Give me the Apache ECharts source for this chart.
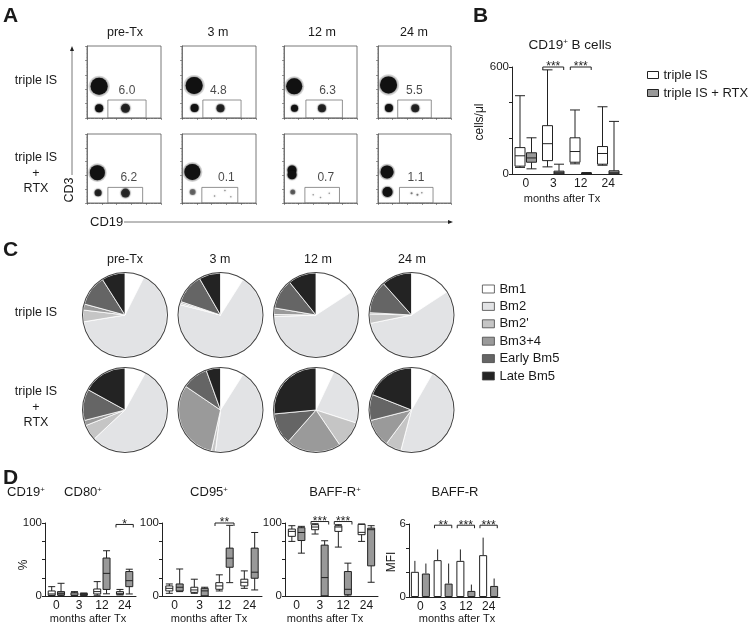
<!DOCTYPE html>
<html><head><meta charset="utf-8">
<script src="https://cdn.jsdelivr.net/npm/echarts@6.0.0/dist/echarts.min.js"></script>
<style>html,body{margin:0;padding:0;background:#fff}#c{width:748px;height:627px}</style>
</head><body><div id="c"></div>
<script>
// ---------------- DATA ----------------
const timepoints = ['pre-Tx', '3 m', '12 m', '24 m'];
const groupNames = ['triple IS', 'triple IS + RTX'];
const monthsAfterTx = ['0', '3', '12', '24'];

// Panel A: % CD19+ in gate
const gatePctIS = [6.0, 4.8, 6.3, 5.5];
const gatePctRTX = [6.2, 0.1, 0.7, 1.1];
// flow clusters: [CD19 (decades), CD3 (decades), spread, density]
const flowClustersIS = [
  [[0.82, 2.2, 17, 1], [0.82, 0.68, 8, 1], [2.6, 0.68, 9, 0.8]],
  [[0.82, 2.25, 17, 1], [0.85, 0.7, 8, 1], [2.6, 0.68, 8, 0.8]],
  [[0.7, 2.2, 16, 1], [0.72, 0.68, 7, 1], [2.6, 0.68, 8, 0.8]],
  [[0.72, 2.3, 17, 1], [0.75, 0.7, 8, 1], [2.55, 0.68, 8, 0.8]]
];
const flowClustersRTX = [
  [[0.7, 2.2, 15, 1], [0.75, 0.75, 7, 0.8], [2.6, 0.72, 9, 0.75]],
  [[0.7, 2.25, 16, 1], [0.72, 0.8, 6, 0.45], [2.2, 0.5, 1.5, 0.4], [2.9, 0.9, 1.5, 0.4], [3.3, 0.45, 1.5, 0.35]],
  [[0.55, 2.4, 9, 1], [0.55, 2.05, 9, 1], [0.6, 0.8, 5, 0.5], [2.0, 0.6, 1.5, 0.35], [2.5, 0.4, 1.5, 0.35], [3.1, 0.7, 1.5, 0.35]],
  [[0.62, 2.25, 13, 1], [0.65, 0.8, 10, 1], [2.3, 0.7, 2, 0.45], [2.7, 0.6, 2, 0.45], [3.0, 0.75, 1.5, 0.4]]
];
// gates: [x1, x2, yTop]
const gatesIS = [[1.41, 3.99, 1.25], [1.41, 3.99, 1.25], [1.5, 4.0, 1.25], [1.35, 3.65, 1.25]];
const gatesRTX = [[1.41, 3.76, 1.13], [1.34, 3.77, 1.13], [1.43, 3.8, 1.13], [1.47, 3.77, 1.13]];
const gateLabelIS = [[2.7, 1.93], [2.46, 1.93], [2.98, 1.93], [2.49, 1.93]];
const gateLabelRTX = [[2.82, 1.86], [3.0, 1.86], [2.86, 1.86], [2.6, 1.86]];

// Panel B: CD19+ B cells (cells/ul) [min, Q1, median, Q3, max]
const bCellsIS = [[37, 44, 102, 148, 439], [40, 75, 170, 271, 584], [57, 66, 126, 203, 359], [49, 55, 115, 154, 377]];
const bCellsRTX = [[29, 66, 90, 119, 203], [0, 0, 7, 16, 55], [0, 1, 3, 5, 8], [0, 0, 7, 18, 295]];
const bSig = [[1, 600, '***'], [2, 600, '***']];

// Panel C: B cell subsets (%)
const subsets = ['Bm1', 'Bm2', "Bm2'", 'Bm3+4', 'Early Bm5', 'Late Bm5'];
const subsetIS = [
  [7.4, 65, 4.5, 2.3, 11.8, 9],
  [9, 70, 0.6, 0.6, 11.5, 8.3],
  [15.8, 58.6, 0.8, 2.5, 11.5, 10.8],
  [15.8, 56, 3.6, 0.5, 12.5, 11.6]
];
const subsetRTX = [
  [8, 55, 6, 2, 12, 17],
  [9, 43, 1.5, 31, 10, 5.5],
  [7, 23, 10.5, 21, 12, 26.5],
  [8.3, 45.8, 6.1, 10.8, 10, 19]
];

// Panel D
const cd80IS = [[0.5, 1, 2.8, 6.9, 12.8], [0.5, 1, 2.8, 4.6, 6], [1, 2.8, 6, 9.6, 19.7], [1.4, 2.3, 3.7, 6, 9]];
const cd80RTX = [[0.5, 1.4, 3.7, 6, 17.4], [1, 1, 2.3, 3.7, 4], [3, 9, 31, 52, 62], [2.8, 12.8, 21, 33.5, 36.7]];
const cd80Sig = [[3, 98, '*']];
const cd95IS = [[3.7, 6.9, 10.5, 13.8, 16.5], [3.7, 5, 8.3, 12, 23], [6.9, 9.2, 13.8, 18.3, 29], [10.5, 13.8, 18.8, 23, 34.4]];
const cd95RTX = [[6, 6.9, 12, 16.5, 37], [0, 0, 7, 10.5, 12], [18.3, 39.4, 51.8, 65.6, 96.8], [8.3, 24.3, 32.6, 65.6, 87]];
const cd95Sig = [[2, 100, '**']];
const baffPosIS = [[74.8, 81.7, 88.5, 91.7, 96.3], [84.9, 90.8, 94.5, 97.7, 99], [67, 88.5, 94.5, 96.3, 97.7], [74.8, 84, 87.2, 98.2, 98.6]];
const baffPosRTX = [[58.7, 76, 87, 93.6, 95.4], [0, 0, 25.2, 69.7, 75.7], [0, 1.8, 9.2, 33.5, 45], [18.8, 41.3, 90.8, 93, 96.3]];
const baffPosSig = [[1, 102, '***'], [2, 102, '***']];
const mfiIS = [2.07, 3.03, 2.97, 3.44];
const mfiISErr = [2.97, 3.91, 3.91, 4.88];
const mfiRTX = [1.93, 1.1, 0.5, 0.91];
const mfiRTXErr = [2.75, 2.75, 1.02, 1.52];
const mfiSig = [[1, 5.9, '**'], [2, 5.9, '***'], [3, 5.9, '***']];

// ---------------- STYLE / LAYOUT ----------------
const FONT = '"Liberation Sans", Arial, Helvetica, sans-serif';
const INK = '#1a1a1a';
const GREY = '#999999';
const subsetColors = ['#ffffff', '#e2e3e5', '#c5c5c5', '#9a9a9a', '#656565', '#232323'];

const chart = echarts.init(document.getElementById('c'));
const grids = [], xAxes = [], yAxes = [], series = [];

function flowAxis(i) {
  return {
    gridIndex: i, type: 'value', min: 0, max: 5, interval: 1,
    axisLine: { show: true, onZero: false, lineStyle: { color: '#555', width: 0.7 } },
    axisTick: { show: true, length: 2, lineStyle: { color: '#555', width: 0.6 } },
    minorTick: { show: true, splitNumber: 4, length: 1, lineStyle: { color: '#999', width: 0.5 } },
    axisLabel: { show: false }, splitLine: { show: false }
  };
}

const flowLeft = [87, 182, 284, 378];
const flowW = [74, 74, 73, 73];
const flowRows = [{ top: 46, h: 72 }, { top: 134, h: 69 }];

[gatePctIS, gatePctRTX].forEach((pcts, r) => {
  const clusters = r === 0 ? flowClustersIS : flowClustersRTX;
  const gates = r === 0 ? gatesIS : gatesRTX;
  const labs = r === 0 ? gateLabelIS : gateLabelRTX;
  for (let c = 0; c < 4; c++) {
    const gi = grids.length;
    grids.push({ left: flowLeft[c], top: flowRows[r].top, width: flowW[c], height: flowRows[r].h,
      show: true, borderColor: '#555', borderWidth: 0.8, backgroundColor: 'rgba(0,0,0,0)', outerBoundsMode: 'none' });
    xAxes.push(flowAxis(gi));
    yAxes.push(flowAxis(gi));
    const cl = clusters[c];
    series.push({ type: 'scatter', xAxisIndex: gi, yAxisIndex: gi, silent: true,
      symbolSize: d => d[2] * 1.25, itemStyle: { color: '#777' },
      data: cl.map(d => ({ value: d, itemStyle: { opacity: 0.25 * d[3] } })) });
    series.push({ type: 'scatter', xAxisIndex: gi, yAxisIndex: gi, silent: true,
      symbolSize: d => d[2], itemStyle: { color: '#111', shadowBlur: 2, shadowColor: 'rgba(0,0,0,0.8)' },
      data: cl.map(d => ({ value: d, itemStyle: { opacity: d[3] } })),
      markArea: { silent: true, itemStyle: { color: 'rgba(0,0,0,0)', borderColor: '#777', borderWidth: 0.8 },
        data: [[{ coord: [gates[c][0], 0] }, { coord: [gates[c][1], gates[c][2]] }]] } });
    series.push({ type: 'scatter', xAxisIndex: gi, yAxisIndex: gi, silent: true, symbolSize: 1,
      itemStyle: { color: 'rgba(0,0,0,0)' }, data: [labs[c]],
      label: { show: true, position: 'inside', formatter: pcts[c].toFixed(1), fontSize: 12, color: INK, fontFamily: FONT } });
  }
});

function catAxis(i) {
  return { gridIndex: i, type: 'category', data: monthsAfterTx,
    axisLine: { lineStyle: { color: '#222', width: 1 } }, axisTick: { show: false },
    axisLabel: { fontSize: 12, color: INK, fontFamily: FONT, margin: 4 }, splitLine: { show: false } };
}
function valAxis(i, max, interval) {
  return { gridIndex: i, type: 'value', min: 0, max: max, interval: interval,
    axisLine: { show: true, lineStyle: { color: '#222', width: 1 } },
    axisTick: { show: true, length: 3, lineStyle: { color: '#222' } },
    axisLabel: { fontSize: 11.5, color: INK, fontFamily: FONT, margin: 3,
      formatter: v => (v === 0 || v === max) ? String(v) : '' },
    splitLine: { show: false } };
}
function boxSeries(i, name, data, fill, w) {
  return { type: 'boxplot', name: name, xAxisIndex: i, yAxisIndex: i, data: data, silent: true,
    boxWidth: [w, w], itemStyle: { color: fill, borderColor: '#222', borderWidth: 1 } };
}
function sigSeries(i, list) {
  return { type: 'custom', xAxisIndex: i, yAxisIndex: i, silent: true, clip: false, z: 10,
    data: list.map(b => [b[0], b[1]]),
    renderItem: (params, api) => {
      const c = api.coord([api.value(0), api.value(1)]);
      const h = api.size([1, 0])[0] * 0.38;
      const lab = list[params.dataIndex][2];
      return { type: 'group', children: [
        { type: 'polyline', shape: { points: [[c[0] - h, c[1] + 3], [c[0] - h, c[1]], [c[0] + h, c[1]], [c[0] + h, c[1] + 3]] },
          style: { stroke: '#222', lineWidth: 1, fill: null } },
        { type: 'text', x: c[0], y: c[1] + 6,
          style: { text: lab, fill: '#222', font: '12px ' + FONT, textAlign: 'center', textVerticalAlign: 'bottom', align: 'center', verticalAlign: 'bottom' } }
      ] };
    } };
}
function errSeries(i, means, errs, off) {
  return { type: 'custom', xAxisIndex: i, yAxisIndex: i, silent: true, z: 1,
    data: means.map((m, k) => [k, m, errs[k]]),
    renderItem: (p, api) => {
      const a = api.coord([api.value(0), api.value(1)]);
      const b = api.coord([api.value(0), api.value(2)]);
      return { type: 'line', shape: { x1: a[0] + off, y1: a[1], x2: b[0] + off, y2: b[1] }, style: { stroke: '#222', lineWidth: 1 } };
    } };
}

// Panel B grid (index 8)
grids.push({ left: 512, top: 67, width: 110, height: 107, outerBoundsMode: 'none' });
xAxes.push(catAxis(8)); yAxes.push(valAxis(8, 600, 200));
series.push(boxSeries(8, groupNames[0], bCellsIS, '#fff', 10));
series.push(boxSeries(8, groupNames[1], bCellsRTX, GREY, 10));
series.push(sigSeries(8, bSig));

// Panel D grids (9..12)
const dGrids = [
  { left: 45, top: 523, width: 91, height: 73 },
  { left: 162, top: 523, width: 100, height: 73 },
  { left: 285, top: 523, width: 93, height: 73 },
  { left: 409, top: 524, width: 91, height: 73 }
];
dGrids.forEach(g => grids.push(Object.assign({ outerBoundsMode: 'none' }, g)));
[[cd80IS, cd80RTX, cd80Sig], [cd95IS, cd95RTX, cd95Sig], [baffPosIS, baffPosRTX, baffPosSig]].forEach((d, k) => {
  const gi = 9 + k;
  xAxes.push(catAxis(gi)); yAxes.push(valAxis(gi, 100, 25));
  series.push(boxSeries(gi, groupNames[0], d[0], '#fff', 7));
  series.push(boxSeries(gi, groupNames[1], d[1], GREY, 7));
  series.push(sigSeries(gi, d[2]));
});
xAxes.push(catAxis(12)); yAxes.push(valAxis(12, 6, 2));
series.push({ type: 'bar', name: groupNames[0], xAxisIndex: 12, yAxisIndex: 12, data: mfiIS, barWidth: 8, barGap: '37.5%', silent: true,
  itemStyle: { color: '#fff', borderColor: '#222', borderWidth: 1 } });
series.push({ type: 'bar', name: groupNames[1], xAxisIndex: 12, yAxisIndex: 12, data: mfiRTX, barWidth: 8, barGap: '37.5%', silent: true,
  itemStyle: { color: GREY, borderColor: '#222', borderWidth: 1 } });
series.push(errSeries(12, mfiIS, mfiISErr, -5.5));
series.push(errSeries(12, mfiRTX, mfiRTXErr, 5.5));
series.push(sigSeries(12, mfiSig));

// Panel C pies
const pieX = [125, 220.5, 316, 411.5];
const pieY = [315, 410];
[subsetIS, subsetRTX].forEach((rows, r) => {
  rows.forEach((vals, c) => {
    series.push({ type: 'pie', center: [pieX[c], pieY[r]], radius: [0, 42], startAngle: 90, clockwise: true,
      silent: true, color: subsetColors, label: { show: false }, labelLine: { show: false },
      itemStyle: { borderColor: '#fff', borderWidth: 0.8 }, emphasis: { disabled: true },
      data: subsets.map((n, k) => ({ name: n, value: vals[k] })) });
    series.push({ type: 'pie', center: [pieX[c], pieY[r]], radius: [42, 43], silent: true,
      label: { show: false }, labelLine: { show: false }, emphasis: { disabled: true },
      data: [{ name: 'outline', value: 1, itemStyle: { color: '#444' } }] });
  });
});

// ---------------- TEXT ----------------
function txt(x, y, text, o) {
  o = o || {};
  const size = o.size || 12.5;
  const st = { text: text, fill: INK, font: (o.bold ? 'bold ' : '') + size + 'px ' + FONT,
    textAlign: o.align || 'center', textVerticalAlign: 'middle', align: o.align || 'center', verticalAlign: 'middle' };
  if (o.rich) st.rich = o.rich;
  return { type: 'text', x: x, y: y, rotation: o.rot || 0, silent: true, style: st };
}
const supRich = (size) => ({
  a: { fontSize: size, fontFamily: FONT, color: INK },
  s: { fontSize: size * 0.6, fontFamily: FONT, color: INK, verticalAlign: 'top' }
});
const graphics = [
  txt(3, 16, 'A', { bold: true, size: 21, align: 'left' }),
  txt(473, 16, 'B', { bold: true, size: 21, align: 'left' }),
  txt(3, 250, 'C', { bold: true, size: 21, align: 'left' }),
  txt(3, 478, 'D', { bold: true, size: 21, align: 'left' }),
  txt(36, 81, 'triple IS'), txt(36, 158, 'triple IS'), txt(36, 174, '+'), txt(36, 189, 'RTX'),
  txt(36, 313, 'triple IS'), txt(36, 392, 'triple IS'), txt(36, 408, '+'), txt(36, 423, 'RTX'),
  txt(70, 190, 'CD3', { rot: Math.PI / 2 }),
  txt(90, 222, 'CD19', { align: 'left', size: 13 }),
  txt(570, 45, '{a|CD19}{s|+}{a| B cells}', { rich: supRich(13.5) }),
  txt(480, 122, 'cells/μl', { rot: Math.PI / 2, size: 12 }),
  txt(562, 199, 'months after Tx', { size: 11 }),
  txt(7, 492, '{a|CD19}{s|+}', { align: 'left', rich: supRich(13) }),
  txt(83, 492, '{a|CD80}{s|+}', { rich: supRich(13) }),
  txt(209, 492, '{a|CD95}{s|+}', { rich: supRich(13) }),
  txt(335, 492, '{a|BAFF-R}{s|+}', { rich: supRich(13) }),
  txt(455, 492, 'BAFF-R', { size: 13 }),
  txt(24, 565, '%', { rot: Math.PI / 2, size: 12 }),
  txt(392, 562, 'MFI', { rot: Math.PI / 2, size: 12 }),
  txt(88, 619, 'months after Tx', { size: 11 }),
  txt(209, 619, 'months after Tx', { size: 11 }),
  txt(325, 619, 'months after Tx', { size: 11 }),
  txt(457, 619, 'months after Tx', { size: 11 }),
  { type: 'line', silent: true, shape: { x1: 72, y1: 175, x2: 72, y2: 50 }, style: { stroke: '#555', lineWidth: 0.8 } },
  { type: 'polygon', silent: true, shape: { points: [[72, 46], [70, 51], [74, 51]] }, style: { fill: '#222' } },
  { type: 'line', silent: true, shape: { x1: 124, y1: 222, x2: 449, y2: 222 }, style: { stroke: '#555', lineWidth: 0.8 } },
  { type: 'polygon', silent: true, shape: { points: [[453, 222], [448, 220], [448, 224]] }, style: { fill: '#222' } }
];
timepoints.forEach((t, c) => {
  graphics.push(txt([125, 218, 322, 414][c], 33, t));
  graphics.push(txt([125, 220, 318, 412][c], 260, t));
});

chart.setOption({
  animation: false,
  textStyle: { fontFamily: FONT },
  grid: grids, xAxis: xAxes, yAxis: yAxes, series: series, graphic: graphics,
  legend: [
    { data: [{ name: groupNames[0], itemStyle: { color: '#ffffff' } }, { name: groupNames[1], itemStyle: { color: GREY } }],
      orient: 'vertical', left: 642, top: 63, itemWidth: 11, itemHeight: 7, itemGap: 4,
      selectedMode: false, icon: 'rect', itemStyle: { borderColor: '#222', borderWidth: 1 },
      textStyle: { fontSize: 13, color: INK, fontFamily: FONT, lineHeight: 14 } },
    { data: subsets, orient: 'vertical', left: 477, top: 277, itemWidth: 12, itemHeight: 8, itemGap: 3.4,
      selectedMode: false, icon: 'rect', itemStyle: { borderColor: '#444', borderWidth: 0.8 },
      textStyle: { fontSize: 13, color: INK, fontFamily: FONT, lineHeight: 14 } }
  ]
});
</script></body></html>
